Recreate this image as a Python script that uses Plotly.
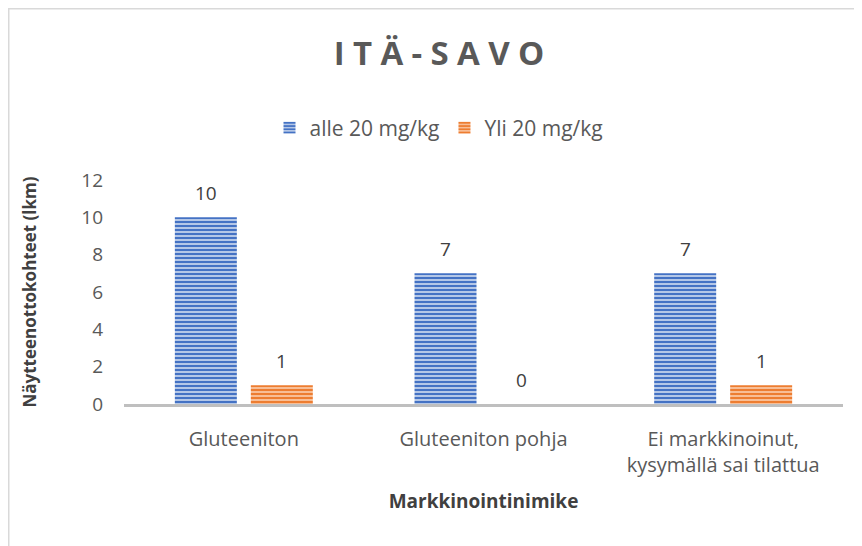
import plotly.graph_objects as go

categories = ["Gluteeniton", "Gluteeniton pohja", "Ei markkinoinut,<br>kysymällä sai tilattua"]
series_names = ["alle 20 mg/kg", "Yli 20 mg/kg"]
alle_20 = [10, 7, 7]
yli_20 = [1, 0, 1]
y_ticks = [0, 2, 4, 6, 8, 10, 12]
title_text = "ITÄ-SAVO"

FONT = "Open Sans"
TXT = "#595959"
DARK = "#404040"

# page body has an 8px default margin; layout numbers below are in figure px
L, R, T, B = 116, 27, 172, 150
PW, PH = 862 - L - R, 546 - T - B

fig = go.Figure()
fig.add_trace(go.Bar(
    name=series_names[0], x=categories, y=alle_20,
    marker=dict(color="#B4C7E7", line=dict(width=0),
                pattern=dict(shape="-", fgcolor="#4472C4", bgcolor="#B4C7E7",
                             size=4, solidity=0.5, fillmode="replace")),
))
fig.add_trace(go.Bar(
    name=series_names[1], x=categories, y=yli_20,
    marker=dict(color="#F8CBAD", line=dict(width=0),
                pattern=dict(shape="-", fgcolor="#ED7D31", bgcolor="#F8BE96",
                             size=4, solidity=0.5, fillmode="replace")),
))

# value labels above bars
for vals, shift in ((alle_20, -38), (yli_20, 38)):
    for c, v in zip(categories, vals):
        fig.add_annotation(x=c, y=v, text=str(v), showarrow=False,
                           xshift=shift, yshift=24, yanchor="middle",
                           font=dict(size=19, color=DARK, family=FONT))

spacer = '<span style="font-size:32px"> </span>'
title_html = "<b>" + spacer.join(list(title_text)) + "</b>"

fig.update_layout(
    width=862, height=546,
    margin=dict(l=L, r=R, t=T, b=B),
    paper_bgcolor="white", plot_bgcolor="white",
    font=dict(family=FONT, color=TXT, size=19),
    barmode="group", bargap=0.366, bargroupgap=0.184,
    title=dict(text=title_html, x=431 / 862, xanchor="center",
               y=1 - 45 / 546, yanchor="middle",
               font=dict(size=33, color=TXT, family=FONT)),
    legend=dict(orientation="h", x=(431 - L) / PW, xanchor="center",
                y=1 + (T - 120) / PH, yanchor="middle",
                font=dict(size=21, color=TXT, family=FONT),
                itemwidth=30, tracegroupgap=0),
    showlegend=True,
)
fig.update_yaxes(
    range=[0, 12], tickvals=y_ticks, showgrid=False, zeroline=False,
    showline=False, ticks="", ticklabelstandoff=20,
    tickfont=dict(size=19, color=TXT),
    title=dict(text="<b>Näytteenottokohteet (lkm)</b>", standoff=40,
               font=dict(size=17, color=DARK)),
)
fig.update_xaxes(
    showline=True, linecolor="#BFBFBF", linewidth=3, ticks="",
    ticklabelstandoff=15, tickfont=dict(size=20, color=TXT),
    title=dict(text="<b>Markkinointinimike</b>", standoff=18,
               font=dict(size=19, color=DARK)),
)

fig.add_shape(type="rect", xref="paper", yref="paper",
              x0=(0.5 - L) / PW, x1=(870 - L) / PW,
              y0=-(B + 20) / PH, y1=1 + (T - 0.5) / PH,
              line=dict(color="#D9D9D9", width=2), fillcolor="rgba(0,0,0,0)", layer="below")

fig.write_html("out.html")
